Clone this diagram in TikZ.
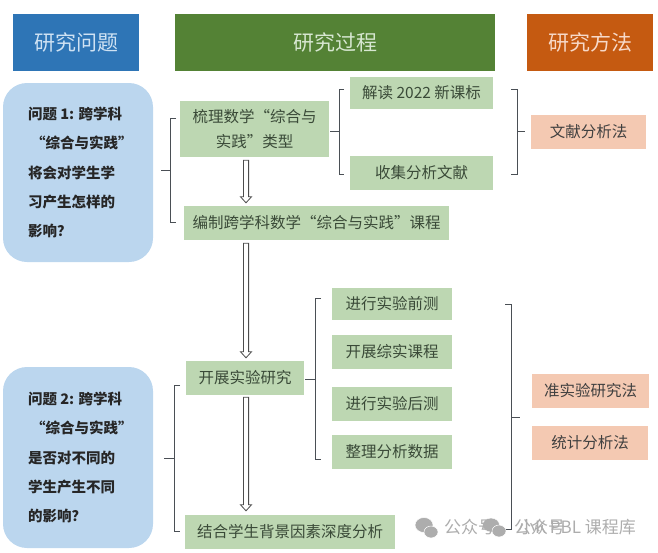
\documentclass[tikz,border=0pt]{standalone}
\usepackage{fontspec}
\setmainfont{Noto Sans CJK SC}
\usetikzlibrary{arrows.meta,positioning,calc}
\definecolor{hblue}{HTML}{2E75B6}
\definecolor{hgreen}{HTML}{548235}
\definecolor{horange}{HTML}{C55A11}
\definecolor{lgreen}{HTML}{BDD7B2}
\definecolor{lorange}{HTML}{F4C9B2}
\definecolor{lblue}{HTML}{BBD6EE}
\definecolor{ink}{HTML}{3A4A38}
\definecolor{brk}{HTML}{4A4F55}
\tikzset{
  header/.style={inner sep=0pt,font=\fontsize{21}{24}\selectfont},
  gbox/.style={fill=lgreen,inner sep=0pt,text=ink,font=\fontsize{15.5}{24}\selectfont,align=center},
  obox/.style={fill=lorange,inner sep=0pt,text=black!75,font=\fontsize{15.5}{24}\selectfont,align=center},
  qbox/.style={fill=lblue,rounded corners=24pt,inner sep=0pt,text=black!85,minimum width=150pt,
    font=\fontsize{14.5}{29.2}\selectfont\bfseries,align=left},
  brack/.style={draw=brk,line width=1pt},
  flow/.style={draw=black!70,line width=.8pt,fill=white,line join=miter},
  wmark/.style={text=black!32,font=\fontsize{17}{20}\selectfont,inner sep=0pt,anchor=west},
  wicon/.style={fill=black!32,draw=white,line width=.5pt}
}
% hollow block arrow between two named coordinates on one vertical line
\newcommand\hollowflow[2]{%
  \draw[flow] ($(#1)+(-2.6,0)$) -- ($(#1)+(2.6,0)$) -- ($(#2)+(2.6,-6)$) -- ($(#2)+(5.5,-6)$)
    -- (#2) -- ($(#2)+(-5.5,-6)$) -- ($(#2)+(-2.6,-6)$) -- cycle;}
\begin{document}
\begin{tikzpicture}[x=1pt,y=-1pt]
\useasboundingbox (0,0) rectangle (658,552);
% headers
\node[header,fill=hblue,text=lblue!70!white,minimum width=126pt,minimum height=57pt] (hq) at (76,42.5) {研究问题};
\node[header,fill=hgreen,text=lgreen!60!white,minimum width=320pt,minimum height=57pt] (hp) at (335,42.5) {研究过程};
\node[header,fill=horange,text=lorange!70!white,minimum width=126pt,minimum height=57pt] (hm) at (590,42.5) {研究方法};
% questions
\node[qbox,minimum height=179pt] (q1) at (78,172.5) {\parbox{100pt}{问题 1: 跨学科\\\hspace*{3pt}“综合与实践”\\将会对学生学\\习产生怎样的\\影响？}};
\node[qbox,minimum height=181pt] (q2) at (78,457.5) {\parbox{100pt}{问题 2: 跨学科\\\hspace*{3pt}“综合与实践”\\是否对不同的\\学生产生不同\\的影响？}};
% process
\node[gbox,minimum width=149pt,minimum height=56pt,font=\fontsize{15.5}{25}\selectfont] (sl) at (254.5,129) {梳理数学“综合与\\实践”类型};
\node[gbox,minimum width=265pt,minimum height=34pt] (bz) at (316.5,223) {编制跨学科数学“综合与实践”课程};
\node[gbox,minimum width=118pt,minimum height=34pt] (kz) at (245,378) {开展实验研究};
\node[gbox,minimum width=210pt,minimum height=34pt] (jh) at (290,532) {结合学生背景因素深度分析};
\node[gbox,minimum width=143pt,minimum height=32pt] (jd) at (421.5,93) {解读 2022 新课标};
\node[gbox,minimum width=143pt,minimum height=34pt] (sj) at (421.5,173) {收集分析文献};
\node[gbox,minimum width=120pt,minimum height=32pt] (qc) at (392,304) {进行实验前测};
\node[gbox,minimum width=120pt,minimum height=34pt] (zs) at (392,352) {开展综实课程};
\node[gbox,minimum width=120pt,minimum height=34pt] (hc) at (392,404) {进行实验后测};
\node[gbox,minimum width=120pt,minimum height=34pt] (zl) at (392,452) {整理分析数据};
% methods
\node[obox,minimum width=115pt,minimum height=34pt] (wx) at (588.5,132) {文献分析法};
\node[obox,minimum width=117pt,minimum height=34pt] (zsy) at (590.5,391) {准实验研究法};
\node[obox,minimum width=116pt,minimum height=34pt] (tj) at (590,443) {统计分析法};
% flow arrows
\coordinate (ax) at (246,0);
\coordinate (a1s) at ($(sl.south -| ax)+(0,3)$);
\coordinate (a1e) at ($(bz.north -| ax)+(0,-3)$);
\coordinate (a2s) at ($(bz.south -| ax)+(0,3)$);
\coordinate (a2e) at ($(kz.north -| ax)+(0,-3)$);
\coordinate (a3s) at ($(kz.south -| ax)+(0,2)$);
\coordinate (a3e) at ($(jh.north -| ax)+(0,-4)$);
\hollowflow{a1s}{a1e}
\hollowflow{a2s}{a2e}
\hollowflow{a3s}{a3e}
% brackets
\draw[brack] (176,118) -- (170,118) -- (170,222) -- (176,222) (161,170) -- (170,170);
\draw[brack] (180,385) -- (174,385) -- (174,531) -- (180,531) (164,458) -- (174,458);
\draw[brack] (344,89) -- (339,89) -- (339,174) -- (344,174) (330,131) -- (339,131);
\draw[brack] (511,89) -- (517,89) -- (517,174) -- (511,174) (517,131) -- (525,131);
\draw[brack] (321,298) -- (315,298) -- (315,459) -- (321,459) (305,379) -- (315,379);
\draw[brack] (505,304) -- (511,304) -- (511,529) -- (505,529) (511,417) -- (520,417);
% watermark
\fill[wicon] (424,525) ellipse (9 and 7.5);
\fill[wicon] (431,532) ellipse (7 and 6);
\fill[wicon] (491,525) ellipse (8.5 and 7);
\fill[wicon] (499,531) ellipse (7 and 6);
\node[wmark] (wm1) at (444,527) {公众号};
\node[wmark] (wm2) at (514,527) {公众号};
\node[wmark] (wm3) at (516,527) {\hspace{2pt}小K PBL 课程库};
\end{tikzpicture}
\end{document}
